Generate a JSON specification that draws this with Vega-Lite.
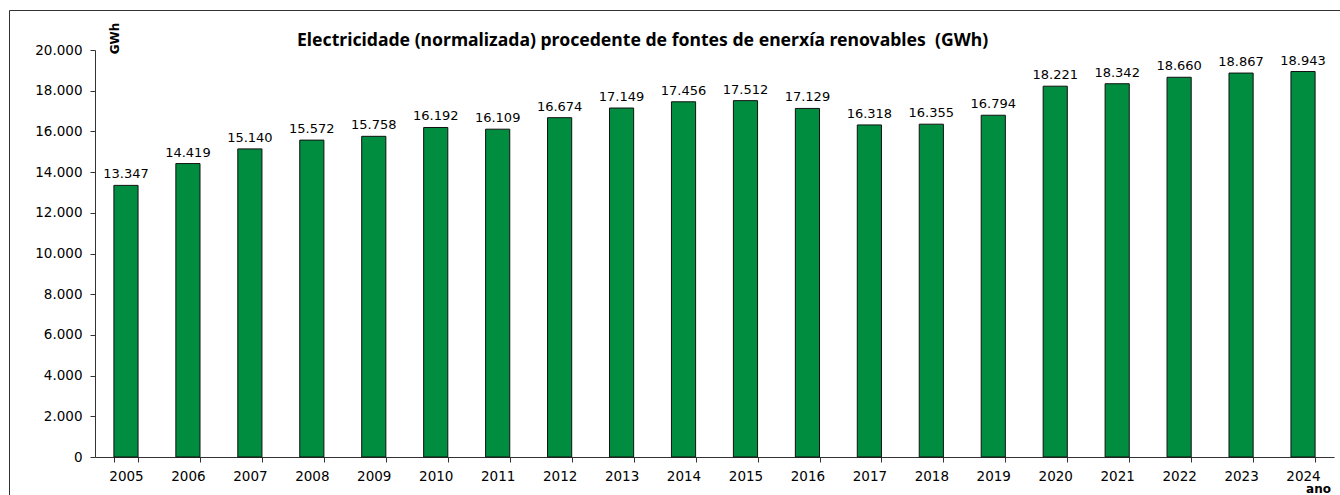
{
  "$schema": "https://vega.github.io/schema/vega-lite/v6.json",
  "autosize": "none",
  "width": 1340,
  "height": 500,
  "padding": {"left": 9, "top": 10, "right": 0, "bottom": 0},
  "background": "white",
  "config": {
    "locale": {"number": {"decimal": ",", "thousands": ".", "grouping": [3], "currency": ["", " €"]}},
    "view": {"stroke": "#333333", "strokeWidth": 1},
    "font": "DejaVu Sans"
  },
  "title": {
    "text": "Electricidade (normalizada) procedente de fontes de enerxía renovables \u00a0(GWh)",
    "anchor": "start",
    "frame": "group",
    "dx": 288,
    "offset": -40,
    "font": "Noto Sans",
    "fontSize": 17.6,
    "fontWeight": "bold",
    "color": "black"
  },
  "data": {
    "values": [
      {"ano": "2005", "gwh": 13347},
      {"ano": "2006", "gwh": 14419},
      {"ano": "2007", "gwh": 15140},
      {"ano": "2008", "gwh": 15572},
      {"ano": "2009", "gwh": 15758},
      {"ano": "2010", "gwh": 16192},
      {"ano": "2011", "gwh": 16109},
      {"ano": "2012", "gwh": 16674},
      {"ano": "2013", "gwh": 17149},
      {"ano": "2014", "gwh": 17456},
      {"ano": "2015", "gwh": 17512},
      {"ano": "2016", "gwh": 17129},
      {"ano": "2017", "gwh": 16318},
      {"ano": "2018", "gwh": 16355},
      {"ano": "2019", "gwh": 16794},
      {"ano": "2020", "gwh": 18221},
      {"ano": "2021", "gwh": 18342},
      {"ano": "2022", "gwh": 18660},
      {"ano": "2023", "gwh": 18867},
      {"ano": "2024", "gwh": 18943}
    ]
  },
  "encoding": {
    "x": {
      "field": "ano",
      "type": "ordinal",
      "scale": {"range": [86, 1325], "paddingInner": 0.61, "paddingOuter": 0.305},
      "axis": {
        "title": "ano",
        "titleX": 1309,
        "titleY": 31,
        "titleAlign": "center",
        "titleBaseline": "middle",
        "titleFont": "DejaVu Sans",
        "titleFontSize": 12,
        "titleFontWeight": "bold",
        "titleColor": "black",
        "offset": -53,
        "labelAngle": 0,
        "labelFontSize": 13.5,
        "labelColor": "black",
        "labelPadding": 7,
        "tickBand": "extent",
        "tickSize": 5,
        "tickColor": "#333333",
        "domainColor": "#333333",
        "grid": false
      }
    },
    "y": {
      "field": "gwh",
      "type": "quantitative",
      "scale": {"domain": [0, 20000], "range": [447, 40], "nice": false, "zero": true},
      "axis": {
        "title": "GWh",
        "titleX": 19,
        "titleY": 28,
        "titleAngle": -90,
        "titleAlign": "center",
        "titleBaseline": "middle",
        "titleFont": "DejaVu Sans",
        "titleFontSize": 12,
        "titleFontWeight": "bold",
        "titleColor": "black",
        "offset": -86,
        "values": [0, 2000, 4000, 6000, 8000, 10000, 12000, 14000, 16000, 18000, 20000],
        "labelExpr": "format(datum.value, ',d')",
        "labelFontSize": 13.5,
        "labelColor": "black",
        "labelPadding": 8,
        "tickSize": 5,
        "tickColor": "#333333",
        "domainColor": "#333333",
        "grid": false
      }
    }
  },
  "layer": [
    {
      "mark": {"type": "bar", "color": "#008D3F", "stroke": "#111111", "strokeWidth": 1}
    },
    {
      "mark": {"type": "text", "baseline": "alphabetic", "dy": -7, "fontSize": 13, "color": "black"},
      "encoding": {
        "text": {"field": "gwh", "type": "quantitative", "format": ","}
      }
    }
  ]
}
